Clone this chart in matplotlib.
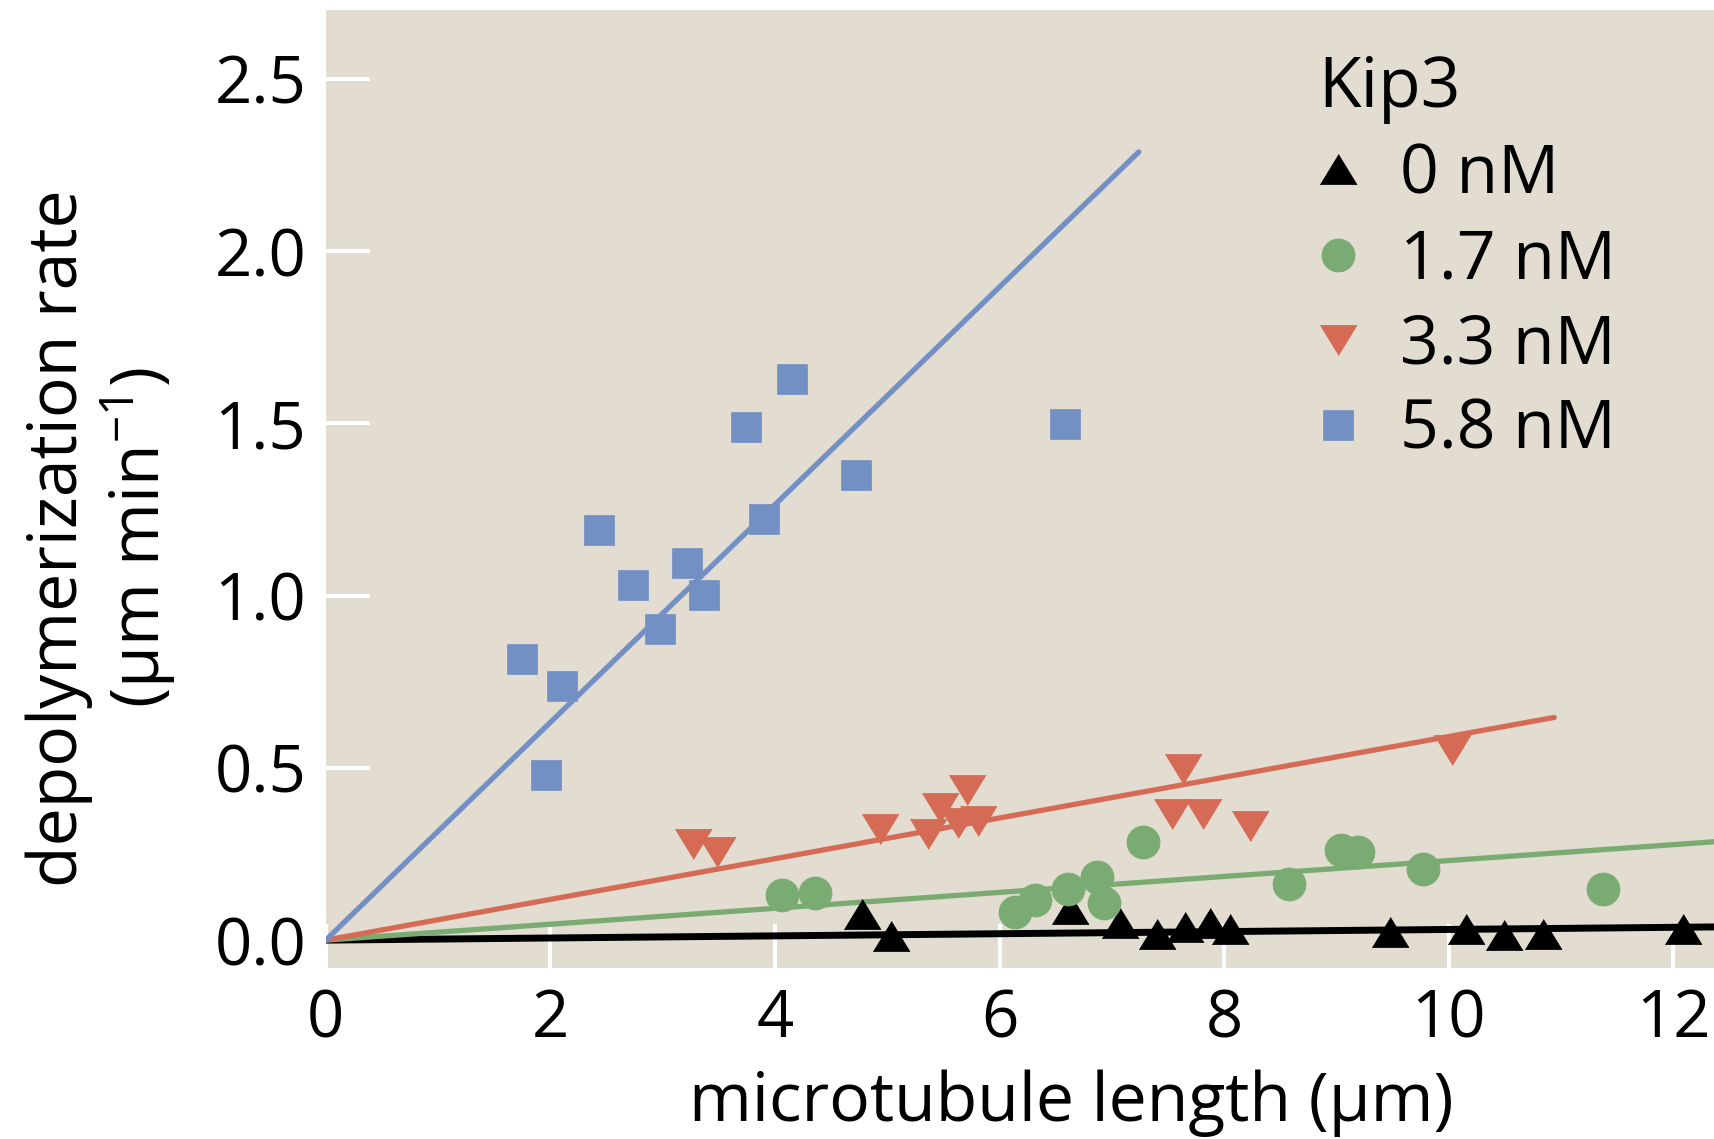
import numpy as np
import matplotlib
matplotlib.use("Agg")
from matplotlib import pyplot as plt

plt.rcParams['font.family'] = ['Open Sans', 'DejaVu Sans']
plt.rcParams['mathtext.fontset'] = 'custom'
plt.rcParams['mathtext.rm'] = 'Open Sans'
plt.rcParams['mathtext.default'] = 'regular'

# data
labels = ['0 nM', '1.7 nM', '3.3 nM', '5.8 nM']

x_0 = [4.78, 5.03, 6.63, 7.07, 7.40, 7.65, 7.87, 8.05, 9.48, 10.15, 10.49, 10.84, 12.09]
y_0 = [0.075, 0.012, 0.091, 0.050, 0.018, 0.038, 0.050, 0.033, 0.023, 0.031, 0.015, 0.019, 0.031]

x_17 = [4.06, 4.36, 6.14, 6.32, 6.61, 6.87, 6.93, 7.28, 8.58, 9.04, 9.19, 9.77, 11.37]
y_17 = [0.131, 0.137, 0.082, 0.116, 0.148, 0.184, 0.109, 0.285, 0.164, 0.261, 0.256, 0.206, 0.148]

x_33 = [3.27, 3.48, 4.94, 5.36, 5.47, 5.63, 5.71, 5.81, 7.54, 7.63, 7.81, 8.23, 10.03]
y_33 = [0.279, 0.256, 0.323, 0.307, 0.384, 0.339, 0.437, 0.347, 0.366, 0.497, 0.366, 0.330, 0.552]

x_58 = [1.75, 1.96, 2.10, 2.43, 2.74, 2.98, 3.22, 3.37, 3.74, 3.90, 4.15, 4.72, 6.58]
y_58 = [0.815, 0.479, 0.738, 1.191, 1.030, 0.904, 1.095, 1.001, 1.490, 1.223, 1.630, 1.349, 1.497]

# fitted slopes (through origin) and where each line stops
slopes = [0.0031, 0.0231, 0.0591, 0.316]
line_ends = [13.3, 12.5, 10.94, 7.24]

xs = [x_0, x_17, x_33, x_58]
ys = [y_0, y_17, y_33, y_58]

colors = ['#000000', '#7aab73', '#d66b55', '#7390c4']
bg = '#e2dcd1'

tri_up = [(-1, -0.82), (1, -0.82), (0, 0.82)]
tri_down = [(-1, 0.82), (1, 0.82), (0, -0.82)]
markers = [tri_up, 'o', tri_down, 's']
msizes = [26.5, 23.8, 26.5, 21.6]
lws = [5.0, 3.8, 3.8, 3.8]

W, H = 1714, 1139
fig = plt.figure(figsize=(W / 100, H / 100), dpi=100)

x_max = 13.0
px_per_unit = 112.3
left = 325.7 / W
bottom = (H - 967.7) / H
height = (967.7 - 10) / H
width = x_max * px_per_unit / W
ax = fig.add_axes([left, bottom, width, height])
ax.set_facecolor(bg)
for s in ax.spines.values():
    s.set_visible(False)

for i in range(4):
    xl = np.array([0, line_ends[i]])
    ax.plot(xl, slopes[i] * xl, color=colors[i], lw=lws[i], zorder=2,
            solid_capstyle='round')

for i in range(4):
    ax.plot(xs[i], ys[i], linestyle='none', marker=markers[i], ms=msizes[i],
            color=colors[i], mec=colors[i], mew=0.5, label=labels[i], zorder=3)

ax.set_xlim(0, x_max)
ax.set_ylim(-0.08, 2.70)
ax.set_xticks([0, 2, 4, 6, 8, 10, 12])
ax.set_yticks([0.0, 0.5, 1.0, 1.5, 2.0, 2.5])
ax.set_yticklabels(['0.0', '0.5', '1.0', '1.5', '2.0', '2.5'])
ax.tick_params(direction='in', length=32, width=3.0, color='white',
               labelsize=47, pad=14)

ax.set_xlabel('microtubule length (μm)', fontsize=49)
ax.xaxis.set_label_coords(0.625, 0.061, transform=fig.transFigure)
ax.set_ylabel('depolymerization rate\n(μm min$^{-1}$)', fontsize=49,
              linespacing=1.1)
ax.yaxis.set_label_coords(0.104, 0.5277, transform=fig.transFigure)

leg = ax.legend(title='Kip3', loc='upper left', frameon=False,
                bbox_to_anchor=(1318 / W, (H - 54) / H),
                bbox_transform=fig.transFigure, fontsize=49,
                title_fontsize=50, alignment='left', handlelength=0.6,
                handletextpad=0.6, labelspacing=0.26, borderpad=0,
                borderaxespad=0, markerscale=1.0)

fig.savefig('out.png', dpi=100)
